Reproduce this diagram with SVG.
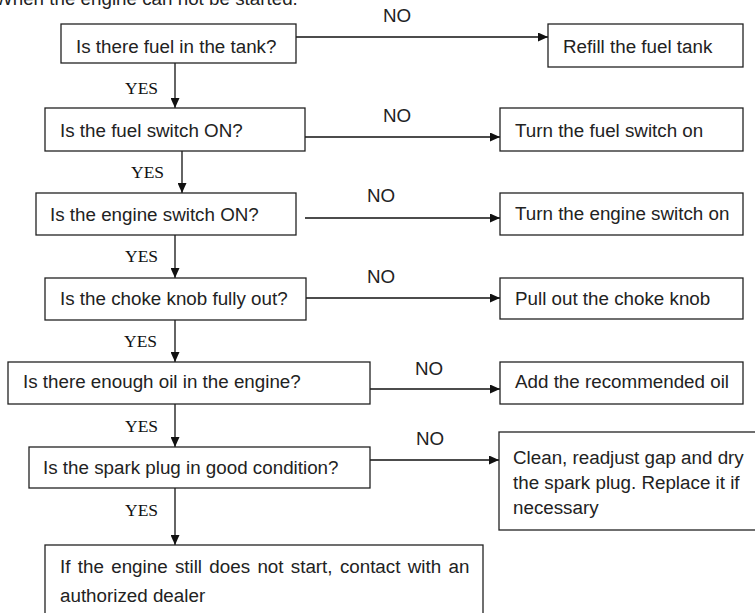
<svg xmlns="http://www.w3.org/2000/svg" width="755" height="613" viewBox="0 0 755 613">
<style>
.box{fill:#fff;stroke:#222;stroke-width:1.3}
.t{font-family:"Liberation Sans",Arial,sans-serif;font-size:18.8px;fill:#222}
.lbl{font-family:"Liberation Sans",Arial,sans-serif;font-size:18.8px;fill:#222}
.yes{font-family:"Liberation Serif","Times New Roman",serif;font-size:17.5px;fill:#111}
.c{fill:none;stroke:#111;stroke-width:1.3}
</style>
<defs>
<marker id="ah" markerUnits="userSpaceOnUse" markerWidth="11" markerHeight="9" refX="10" refY="4.5" orient="auto">
<path d="M0,0 L10,4.5 L0,9 z" fill="#111"/>
</marker>
</defs>
<rect width="755" height="613" fill="#fff"/>
<text class="t" x="-5" y="5">When the engine can not be started.</text>

<g id="connectors">
<path class="c" d="M296,37 H548" marker-end="url(#ah)"/>
<path class="c" d="M305,137 H500" marker-end="url(#ah)"/>
<path class="c" d="M305,218 H500" marker-end="url(#ah)"/>
<path class="c" d="M306,298 H500" marker-end="url(#ah)"/>
<path class="c" d="M370,389 H500" marker-end="url(#ah)"/>
<path class="c" d="M370,460 H499" marker-end="url(#ah)"/>
<path class="c" d="M175,63 V108" marker-end="url(#ah)"/>
<path class="c" d="M182,151 V193" marker-end="url(#ah)"/>
<path class="c" d="M175,235 V278" marker-end="url(#ah)"/>
<path class="c" d="M175,320 V362" marker-end="url(#ah)"/>
<path class="c" d="M175,404 V447" marker-end="url(#ah)"/>
<path class="c" d="M175,488 V545" marker-end="url(#ah)"/>
<text class="lbl" x="383" y="22">NO</text>
<text class="lbl" x="383" y="122">NO</text>
<text class="lbl" x="367" y="202">NO</text>
<text class="lbl" x="367" y="283">NO</text>
<text class="lbl" x="415" y="375">NO</text>
<text class="lbl" x="416" y="445">NO</text>
<text class="yes" x="125" y="94">YES</text>
<text class="yes" x="131" y="178">YES</text>
<text class="yes" x="125" y="262">YES</text>
<text class="yes" x="124" y="347">YES</text>
<text class="yes" x="125" y="432">YES</text>
<text class="yes" x="125" y="516">YES</text>
</g>

<g id="q1"><rect class="box" x="61" y="24" width="235" height="39"/><text class="t" x="76" y="53">Is there fuel in the tank?</text></g>
<g id="a1"><rect class="box" x="548" y="24" width="195" height="43"/><text class="t" x="563" y="53">Refill the fuel tank</text></g>
<g id="q2"><rect class="box" x="45" y="108" width="260" height="43"/><text class="t" x="60" y="137">Is the fuel switch ON?</text></g>
<g id="a2"><rect class="box" x="500" y="108" width="243" height="43"/><text class="t" x="515" y="137">Turn the fuel switch on</text></g>
<g id="q3"><rect class="box" x="36" y="193" width="260" height="42"/><text class="t" x="50" y="221">Is the engine switch ON?</text></g>
<g id="a3"><rect class="box" x="500" y="193" width="243" height="42"/><text class="t" x="515" y="220">Turn the engine switch on</text></g>
<g id="q4"><rect class="box" x="45" y="278" width="261" height="42"/><text class="t" x="60" y="305">Is the choke knob fully out?</text></g>
<g id="a4"><rect class="box" x="500" y="278" width="243" height="41"/><text class="t" x="515" y="305">Pull out the choke knob</text></g>
<g id="q5"><rect class="box" x="8" y="362" width="362" height="42"/><text class="t" x="23" y="388">Is there enough oil in the engine?</text></g>
<g id="a5"><rect class="box" x="500" y="362" width="243" height="42"/><text class="t" x="515" y="388">Add the recommended oil</text></g>
<g id="q6"><rect class="box" x="29" y="447" width="341" height="41"/><text class="t" x="43" y="474">Is the spark plug in good condition?</text></g>
<g id="a6"><rect class="box" x="499" y="432" width="262" height="98"/>
<text class="t" x="513" y="464">Clean, readjust gap and dry</text>
<text class="t" x="513" y="489">the spark plug. Replace it if</text>
<text class="t" x="513" y="514">necessary</text></g>
<g id="end"><rect class="box" x="45" y="545" width="438" height="75"/>
<text class="t" x="60" y="573" word-spacing="2.1">If the engine still does not start, contact with an</text>
<text class="t" x="60" y="602">authorized dealer</text></g>
</svg>
